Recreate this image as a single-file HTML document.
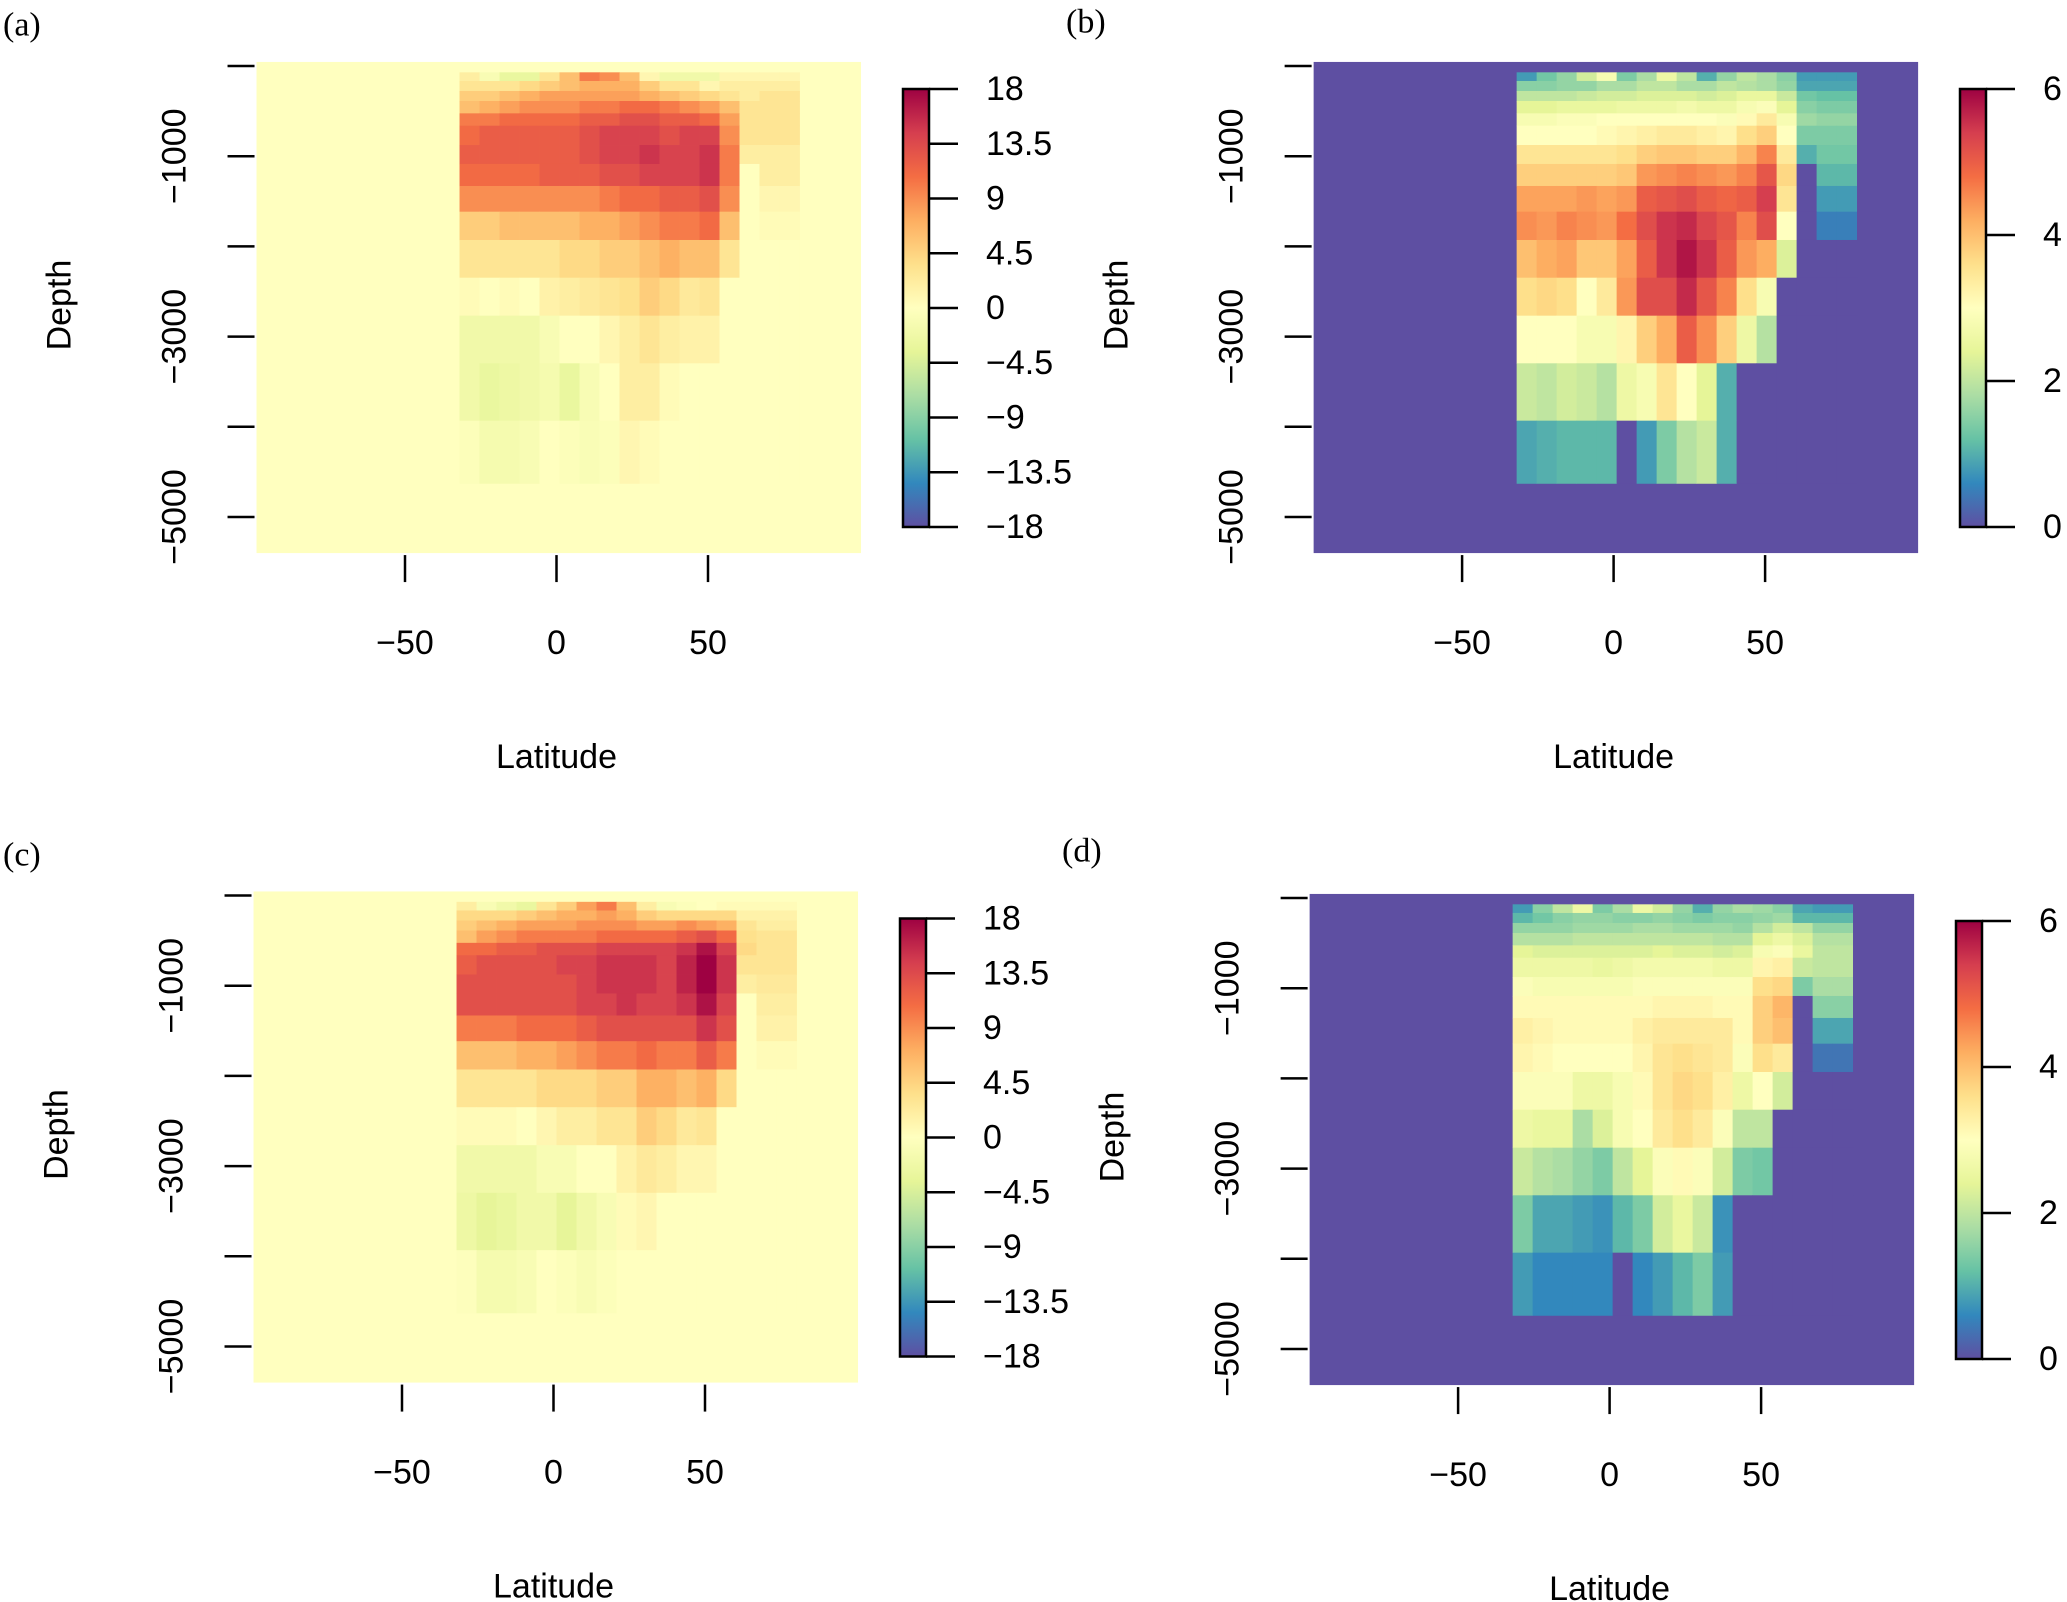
<!DOCTYPE html>
<html><head><meta charset="utf-8"><style>
html,body{margin:0;padding:0;background:#fff;}
svg{display:block;font-family:"Liberation Sans",Arial,sans-serif;}
</style></head><body>
<svg id="fig" width="2067" height="1602" viewBox="0 0 2067 1602"></svg>
<script>
// ---- data ----
const latEdges = [-32,-25.4,-18.8,-12.2,-5.6,1,7.6,14.2,20.8,27.4,34,40.6,47.2,53.8,60.4,67,73.6,80.2];
const depthEdges = [70,166,277,388,525,662,876,1086,1330,1615,1929,2347,2768,3296,3932,4627];
const depthTicks = [0,-1000,-2000,-3000,-4000,-5000];
const depthTickLabels = ["","−1000","","−3000","","−5000"];
const latTicks = [-50,0,50];
const latTickLabels = ["−50","0","50"];
const barTicksAC = [18,13.5,9,4.5,0,-4.5,-9,-13.5,-18];
const barLabelsAC = ["18","13.5","9","4.5","0","−4.5","−9","−13.5","−18"];
const barTicksBD = [6,4,2,0];
const barLabelsBD = ["6","4","2","0"];

const valuesA = [
[2,-1,-3,-3,3,6,10,9,6,1,-2,-2,-2,1,1,1,1],
[3,3,3,4,5,6,7,7,7,5,3,3,1,2,2,2,2],
[5,5,6,7,8,8,8,8,8,7,6,5,4,3,2,3,3],
[6,7,8,9,9,9,10,10,11,11,10,9,8,6,3,3,3],
[10,10,11,11,11,11,12,12,13,13,12,12,11,8,3,3,3],
[11,12,12,12,12,12,13,14,14,14,13,14,14,9,3,3,3],
[12,12,12,12,12,12,13,14,14,15,14,14,15,10,2,2,2],
[11,11,11,11,12,12,12,13,13,14,14,14,15,10,0,2,2],
[9,9,9,9,9,9,9,10,11,11,12,12,13,9,0,1,1],
[5,5,6,6,6,6,7,7,8,9,10,10,11,6,0,0.5,0.5],
[3,3,3,3,3,4,4,5,5,6,7,6,6,3,0,0,0],
[0.5,0,0.5,0,1.5,2,2.5,3,3.5,5,4,2.5,3,0,0,0,0],
[-2,-2,-2,-2,-1,0,0,1,2,3,2,1.5,1.5,0,0,0,0],
[-2,-3,-2.5,-2,-1.5,-3,-1,0,2,2,0.5,0,0,0,0,0,0],
[-0.5,-1.5,-1.5,-1,0,-0.5,-0.8,-0.5,1,0.5,0,0,0,0,0,0,0]
];
const valuesB = [
[0.8,1.3,1.6,2.2,2.8,1.4,1.8,2.6,2,1,1.6,2,1.8,1.5,0.8,0.8,0.8],
[1.5,1.5,1.6,1.6,1.8,1.8,2,2,1.8,1.8,2,1.9,1.8,1.6,0.9,0.9,0.9],
[2,2,2,2.1,2.2,2.2,2.3,2.3,2.3,2.2,2.3,2.5,2.5,2.1,1.3,1.2,1.2],
[2.4,2.4,2.5,2.5,2.5,2.6,2.6,2.6,2.7,2.6,2.6,2.8,2.9,2.4,1.5,1.4,1.4],
[2.8,2.8,2.9,2.9,3,3,3,3,3,3,2.9,3.1,3.4,2.8,1.7,1.6,1.6],
[3,3,3,3,3.1,3.2,3.3,3.4,3.4,3.3,3.2,3.6,3.8,3,1.4,1.4,1.4],
[3.5,3.5,3.5,3.5,3.5,3.6,3.8,3.9,3.9,3.8,3.8,4.1,4.6,3.4,1.0,1.3,1.3],
[3.8,3.8,3.8,3.8,3.8,3.9,4.4,4.5,4.6,4.5,4.4,4.6,5.1,3.7,0,1.1,1.1],
[4.3,4.3,4.3,4.4,4.3,4.4,5,5.1,5.2,5,4.9,5,5.4,3.5,0,0.8,0.8],
[4.5,4.4,4.6,4.5,4.4,4.8,5.2,5.5,5.6,5.3,5.1,4.6,5.2,3,0,0.5,0.5],
[4,4.2,4.3,3.9,3.9,4.3,5,5.5,5.8,5.5,5,4.4,4.2,2.3,0,0,0],
[3.6,3.7,3.6,3.0,3.4,4.4,5.2,5.2,5.6,5.1,4.6,3.6,2.8,0,0,0,0],
[3,3,3,2.8,2.8,3.2,3.8,4.2,5,4.5,3.8,2.6,1.9,0,0,0,0],
[2.1,2.0,2.2,2.1,1.9,2.6,2.8,3.5,3.0,2.4,1.0,0,0,0,0,0,0],
[0.9,1.0,1.1,1.1,1.1,0,0.8,1.4,1.9,2.1,1.0,0,0,0,0,0,0]
];
const valuesC = [
[2,-1,-2,-3,3,5,8,10,6,2,-1,-0.5,0,0.5,0.5,0.5,0.5],
[4,4,4,5,6,7,7,8,7,5,4,4,4,4,1.5,1.5,1.5],
[5,6,7,8,8,8,9,9,9,8,8,9,8,7,3,2,2],
[6,8,9,10,10,10,10,11,11,11,11,12,13,11,3.5,3,3],
[11,11,12,12,13,13,13,14,14,14,14,15,17,14,4,3,3],
[12,13,13,13,13,14,14,15,15,15,14,16,18,15,3,3,3],
[13,13,13,13,13,13,14,15,15,15,14,16,18,15,2,2.5,2.5],
[13,13,13,13,13,13,14,14,15,14,14,15,17,14,0,2,2],
[10,10,10,11,11,11,12,13,13,13,13,13,15,13,0,1.5,1.5],
[6,6,6,7,7,8,9,10,10,11,10,10,12,10,0,0.5,0.5],
[3,3,3,3,4,4,4,5,5,7,7,6,7,4,0,0,0],
[0.5,0.5,0.5,0,1,2,2,3,3,5,4,2.5,3,0,0,0,0],
[-2,-2,-2,-2,-1,-1,0,0,1.5,2.5,2,1,1,0,0,0,0],
[-2.5,-3.5,-3,-2,-2,-3.5,-2,-1,0.5,1,0,0,0,0,0,0,0],
[-0.3,-1.5,-1.5,-1,0,-0.5,-1,-0.5,0,0,0,0,0,0,0,0,0]
];
const valuesD = [
[0.8,1.5,2,2.6,1.4,1.8,2.6,2.2,1.6,1,1.6,1.8,1.7,1.5,0.9,0.8,0.8],
[1.1,1.3,1.5,1.6,1.6,1.5,1.5,1.6,1.5,1.4,1.5,1.5,1.6,1.7,1.1,1.1,1.1],
[1.6,1.6,1.6,1.7,1.7,1.7,1.8,1.8,1.7,1.7,1.7,1.6,1.9,2.2,2.0,1.6,1.6],
[1.9,1.9,1.9,2,2,2,2,2,2,2,1.9,1.9,2.4,2.6,2.3,1.9,1.9],
[2.4,2.3,2.3,2.3,2.3,2.3,2.3,2.4,2.3,2.3,2.2,2.3,2.8,2.9,2.5,2,2],
[2.6,2.6,2.6,2.6,2.5,2.6,2.7,2.7,2.7,2.7,2.6,2.6,3.2,3.3,2.1,2,2],
[2.9,2.8,2.8,2.8,2.8,2.8,2.9,2.9,2.9,2.9,2.9,2.9,3.6,3.7,1.4,1.8,1.8],
[3.1,3.1,3.1,3.1,3.1,3.1,3.1,3.2,3.2,3.2,3.1,3.1,3.8,4.1,0,1.5,1.5],
[3.3,3.2,3.1,3.1,3.1,3.1,3.3,3.4,3.4,3.4,3.4,3.1,3.8,4.0,0,0.9,0.9],
[3.2,3.1,3,3,3,3,3.2,3.5,3.6,3.5,3.4,2.9,3.6,3.4,0,0.4,0.4],
[2.9,2.9,2.9,2.6,2.6,2.8,3.1,3.5,3.7,3.6,3.3,2.6,3,2.2,0,0,0],
[2.6,2.5,2.5,1.8,2.3,2.8,3.0,3.4,3.6,3.4,2.9,2.0,2.0,0,0,0,0],
[2.1,1.9,1.8,1.6,1.4,2.0,2.4,2.9,3.1,2.9,2.2,1.4,1.3,0,0,0,0],
[1.4,0.9,0.9,0.8,0.7,1.1,1.4,2.2,2.5,2.1,0.7,0,0,0,0,0,0],
[0.8,0.6,0.6,0.6,0.6,0,0.6,0.8,1.1,1.4,0.8,0,0,0,0,0,0]
];

const spectral = ["#5E4FA2","#3288BD","#66C2A5","#ABDDA4","#E6F598","#FFFFBF","#FEE08B","#FDAE61","#F46D43","#D53E4F","#9E0142"];
function hex(h){return [parseInt(h.substr(1,2),16),parseInt(h.substr(3,2),16),parseInt(h.substr(5,2),16)];}
function colorAt(t){
  t=Math.max(0,Math.min(1,t));
  const p=t*(spectral.length-1), i=Math.min(Math.floor(p),spectral.length-2), f=p-i;
  const a=hex(spectral[i]), b=hex(spectral[i+1]);
  return "rgb("+a.map((v,j)=>Math.round(v+(b[j]-v)*f)).join(",")+")";
}
const NS="http://www.w3.org/2000/svg";
const svg=document.getElementById("fig");
function mk(tag,attrs,parent){const e=document.createElementNS(NS,tag);for(const k in attrs)e.setAttribute(k,attrs[k]);(parent||svg).appendChild(e);return e;}

const panels=[
 {id:"a",vals:valuesA,vmin:-18,vmax:18,x0:556.5,y0:66,bx:903,by0:89,ticks:barTicksAC,labels:barLabelsAC,lx:3,ly:25},
 {id:"b",vals:valuesB,vmin:0,vmax:6,x0:1613.6,y0:66,bx:1960,by0:89,ticks:barTicksBD,labels:barLabelsBD,lx:1066,ly:22},
 {id:"c",vals:valuesC,vmin:-18,vmax:18,x0:553.5,y0:895.5,bx:900,by0:918.5,ticks:barTicksAC,labels:barLabelsAC,lx:3,ly:855},
 {id:"d",vals:valuesD,vmin:0,vmax:6,x0:1609.6,y0:898,bx:1956,by0:921,ticks:barTicksBD,labels:barLabelsBD,lx:1062,ly:851}
];
const PXDEG=3.03, PXM=0.0902;
panels.forEach(P=>{
  const g=mk("g",{});
  
  
  const xS=lat=>P.x0+lat*PXDEG;
  const yS=d=>P.y0-d*PXM;
  const cS=v=>colorAt((v-P.vmin)/(P.vmax-P.vmin));
  const bg=mk("rect",{x:xS(-99),y:yS(45),width:xS(100.5)-xS(-99),height:yS(-5400)-yS(45),fill:cS(0)},g);
  
  
  P.vals.forEach((row,r)=>{
    row.forEach((v,k)=>{
      const x1=xS(latEdges[k]), x2=xS(latEdges[k+1]);
      const y1=yS(-depthEdges[r]), y2=yS(-depthEdges[r+1]);
      const c=mk("rect",{x:x1,y:y1,width:x2-x1+0.4,height:y2-y1+0.4,fill:cS(v)},g);
      
      
    });
  });
  const left=xS(-99), bottom=yS(-5400);
  depthTicks.forEach((d,i)=>{
    const t=mk("line",{x1:left-29,x2:left-2,y1:yS(d),y2:yS(d),stroke:"#000","stroke-width":2.5},g);
    
    
    if(depthTickLabels[i]){
      const tx=left-82;
      const l=mk("text",{x:tx,y:yS(d),"font-size":34,"text-anchor":"middle","dominant-baseline":"central",transform:"rotate(-90 "+tx+" "+yS(d)+")",fill:"#000"},g);
      l.textContent=depthTickLabels[i];
      
      
    }
  });
  latTicks.forEach((lat,i)=>{
    const t=mk("line",{x1:xS(lat),x2:xS(lat),y1:bottom+2,y2:bottom+29,stroke:"#000","stroke-width":2.5},g);
    
    
    const l=mk("text",{x:xS(lat),y:bottom+90,"font-size":34,"text-anchor":"middle","dominant-baseline":"central",fill:"#000"},g);
    l.textContent=latTickLabels[i];
    
    
  });
  const xt=mk("text",{x:xS(0),y:bottom+204,"font-size":34,"text-anchor":"middle","dominant-baseline":"central",fill:"#000"},g);
  xt.textContent="Latitude";
  
  
  const ytx=left-197, yty=yS(-2650);
  const yt=mk("text",{x:ytx,y:yty,"font-size":34,"text-anchor":"middle","dominant-baseline":"central",transform:"rotate(-90 "+ytx+" "+yty+")",fill:"#000"},g);
  yt.textContent="Depth";
  
  
  const pl=mk("text",{x:P.lx,y:P.ly,"font-size":34,"font-family":"Liberation Serif, serif","dominant-baseline":"central",fill:"#000"},g);
  pl.textContent="("+P.id+")";
  
  
  const bw=26, bh=438, by=P.by0;
  const gid="grad"+P.id;
  const defs=mk("defs",{},g);
  const lg=mk("linearGradient",{id:gid,x1:0,y1:1,x2:0,y2:0},defs);
  for(let i=0;i<=20;i++){mk("stop",{offset:(i/20),"stop-color":colorAt(i/20)},lg);}
  const cb=mk("rect",{x:P.bx,y:by,width:bw,height:bh,fill:"url(#"+gid+")",stroke:"#000","stroke-width":2.5},g);
  
  
  const bS=v=>by+bh*(P.vmax-v)/(P.vmax-P.vmin);
  P.ticks.forEach((v,i)=>{
    const t=mk("line",{x1:P.bx+bw,x2:P.bx+bw+29,y1:bS(v),y2:bS(v),stroke:"#000","stroke-width":2.5},g);
    
    
    const l=mk("text",{x:P.bx+bw+57,y:bS(v),"font-size":34,"dominant-baseline":"central",fill:"#000"},g);
    l.textContent=P.labels[i];
    
    
  });
});
</script>
</body></html>
